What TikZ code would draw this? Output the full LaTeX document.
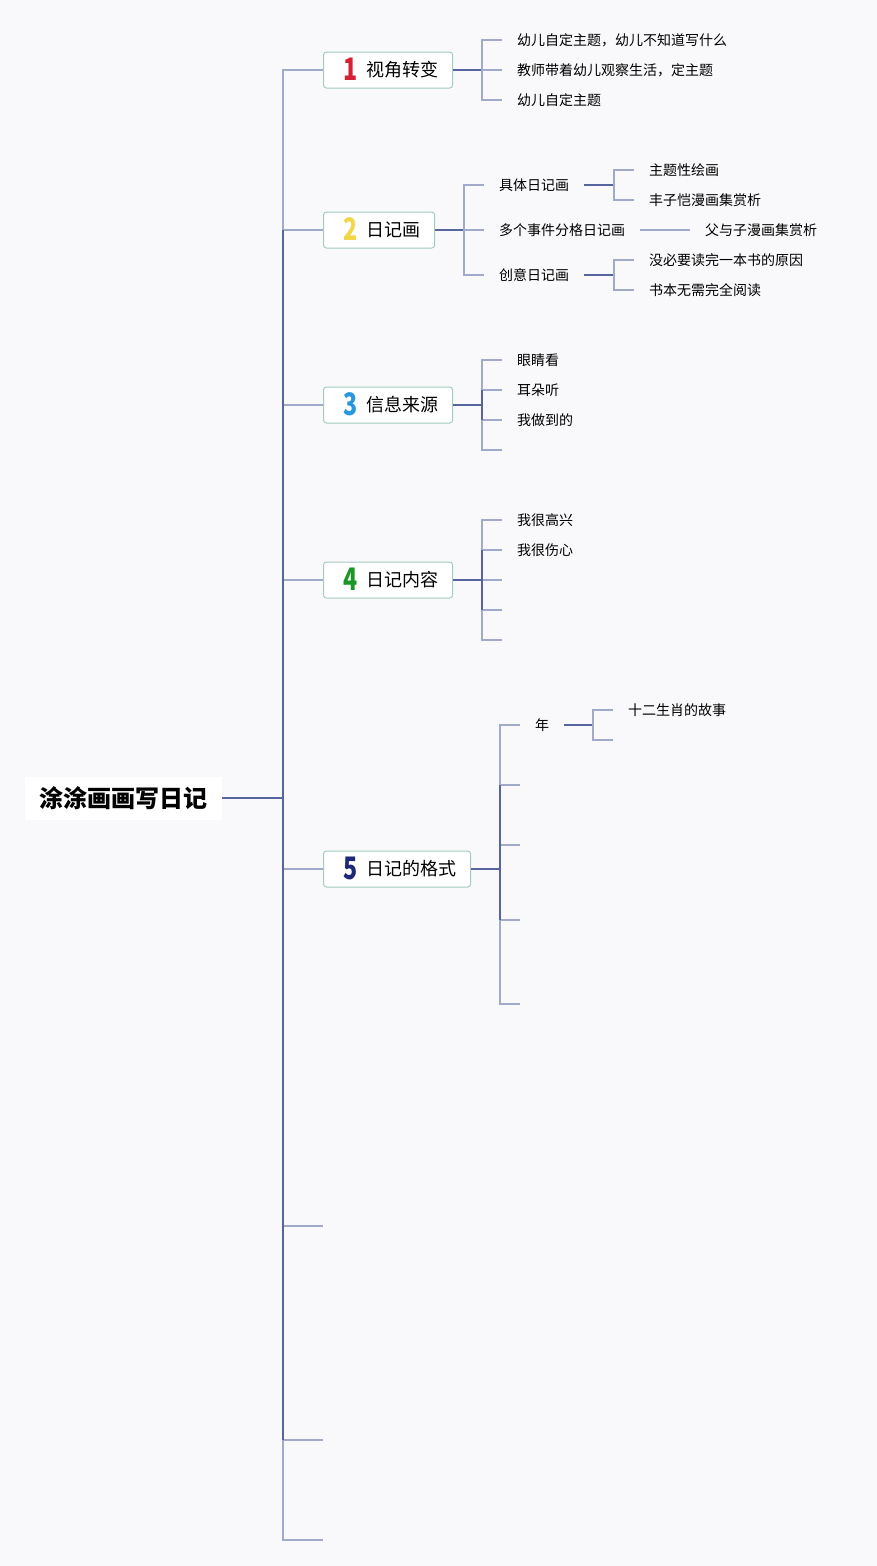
\documentclass[tikz,border=0pt]{standalone}
\usepackage{graphicx}
\usepackage{fontspec}
\setmainfont{Noto Sans CJK SC}
\definecolor{dk}{RGB}{86,101,158}
\definecolor{lt}{RGB}{162,170,202}
\definecolor{bd}{RGB}{164,204,192}
\definecolor{bg}{RGB}{249,249,251}
\definecolor{cA}{RGB}{214,32,52}
\definecolor{cB}{RGB}{242,214,72}
\definecolor{cC}{RGB}{40,152,222}
\definecolor{cD}{RGB}{28,150,40}
\definecolor{cE}{RGB}{30,40,120}
\newcommand\tlabel[3]{\hspace{6pt}{\color{#1}\smash{\raisebox{-10.3pt}{\scalebox{0.75}[1]{\fontsize{31}{31}\selectfont\bfseries #2}}}}\hspace{9pt}\smash{\raisebox{-6.8pt}{#3}}}
\tikzset{
  rootbox/.style={fill=white, minimum width=197pt, minimum height=43pt, inner sep=0pt, font=\fontsize{24}{24}\selectfont\bfseries},
  topic/.style={draw=bd, fill=white, rounded corners=3pt, line width=1pt, minimum height=36pt, inner xsep=14pt, inner ysep=0pt, font=\fontsize{18}{18}\selectfont, anchor=west},
  leaf/.style={anchor=west, inner xsep=15pt, inner ysep=0pt, font=\fontsize{14}{14}\selectfont},
  dkl/.style={draw=dk, line width=1.6pt},
  ltl/.style={draw=lt, line width=1.6pt}
}
\begin{document}
\begin{tikzpicture}[x=1pt,y=-1pt]
\fill[bg] (0,0) rectangle (877,1566);
\useasboundingbox (0,0) rectangle (877,1566);

% root
\node[rootbox] (root) at (123.5,798) {涂涂画画写日记};
\coordinate (T) at (283,798);

% topics
\node[topic] (n1) at (323,70) {\tlabel{cA}{1}{视角转变}};
\node[topic] (n2) at (323,230) {\tlabel{cB}{2}{日记画}};
\node[topic] (n3) at (323,405) {\tlabel{cC}{3}{信息来源}};
\node[topic] (n4) at (323,580) {\tlabel{cD}{4}{日记内容}};
\node[topic] (n5) at (323,869) {\tlabel{cE}{5}{日记的格式}};
\coordinate (e6) at (323,1226);
\coordinate (e7) at (323,1440);
\coordinate (e8) at (323,1540);

\draw[dkl] (root.east) -- (T);
\foreach \n in {n1,n2,n3,n4,n5} \draw[ltl] (T) |- (\n.west);
\foreach \n in {e6,e7,e8} \draw[ltl] (T) |- (\n);
\draw[dkl] (T |- n2.west) -- (T |- e7);

% topic 1
\coordinate (f1) at (482,70);
\node[leaf] (l11) at (502,40) {幼儿自定主题，幼儿不知道写什么};
\node[leaf] (l12) at (502,70) {教师带着幼儿观察生活，定主题};
\node[leaf] (l13) at (502,100) {幼儿自定主题};
\draw[dkl] (n1.east) -- (f1);
\foreach \n in {l11,l12,l13} \draw[ltl] (f1) |- (\n.west);

% topic 2
\coordinate (f2) at (464,230);
\node[leaf] (l21) at (484,185) {具体日记画};
\node[leaf] (l22) at (484,230) {多个事件分格日记画};
\node[leaf] (l23) at (484,275) {创意日记画};
\draw[dkl] (n2.east) -- (f2);
\foreach \n in {l21,l22,l23} \draw[ltl] (f2) |- (\n.west);

\coordinate (f21) at (614,185);
\node[leaf] (l211) at (634,170) {主题性绘画};
\node[leaf] (l212) at (634,200) {丰子恺漫画集赏析};
\draw[dkl] (l21.east) -- (f21);
\foreach \n in {l211,l212} \draw[ltl] (f21) |- (\n.west);

\node[leaf] (l221) at (690,230) {父与子漫画集赏析};
\draw[ltl] (l22.east) -- (l221.west);

\coordinate (f23) at (614,275);
\node[leaf] (l231) at (634,260) {没必要读完一本书的原因};
\node[leaf] (l232) at (634,290) {书本无需完全阅读};
\draw[dkl] (l23.east) -- (f23);
\foreach \n in {l231,l232} \draw[ltl] (f23) |- (\n.west);

% topic 3
\coordinate (f3) at (482,405);
\node[leaf] (l31) at (502,360) {眼睛看};
\node[leaf] (l32) at (502,390) {耳朵听};
\node[leaf] (l33) at (502,420) {我做到的};
\coordinate (l34) at (502,450);
\draw[dkl] (n3.east) -- (f3);
\foreach \n in {l31,l32,l33} \draw[ltl] (f3) |- (\n.west);
\draw[ltl] (f3) |- (l34);
\draw[dkl] (f3 |- l32.west) -- (f3 |- l33.west);

% topic 4
\coordinate (f4) at (482,580);
\node[leaf] (l41) at (502,520) {我很高兴};
\node[leaf] (l42) at (502,550) {我很伤心};
\coordinate (l43) at (502,580);
\coordinate (l44) at (502,610);
\coordinate (l45) at (502,640);
\draw[dkl] (n4.east) -- (f4);
\foreach \n in {l41,l42} \draw[ltl] (f4) |- (\n.west);
\foreach \n in {l43,l44,l45} \draw[ltl] (f4) |- (\n);
\draw[dkl] (f4 |- l42.west) -- (f4 |- l44);

% topic 5
\coordinate (f5) at (500,869);
\node[leaf] (l51) at (520,725) {年};
\coordinate (l52) at (520,785);
\coordinate (l53) at (520,845);
\coordinate (l54) at (520,920);
\coordinate (l55) at (520,1004);
\draw[dkl] (n5.east) -- (f5);
\draw[ltl] (f5) |- (l51.west);
\foreach \n in {l52,l53,l54,l55} \draw[ltl] (f5) |- (\n);
\draw[dkl] (f5 |- l52) -- (f5 |- l54);

\coordinate (f51) at (593,725);
\node[leaf] (l511) at (613,710) {十二生肖的故事};
\coordinate (l512) at (613,740);
\draw[dkl] (l51.east) -- (f51);
\draw[ltl] (f51) |- (l511.west);
\draw[ltl] (f51) |- (l512);
\end{tikzpicture}
\end{document}
